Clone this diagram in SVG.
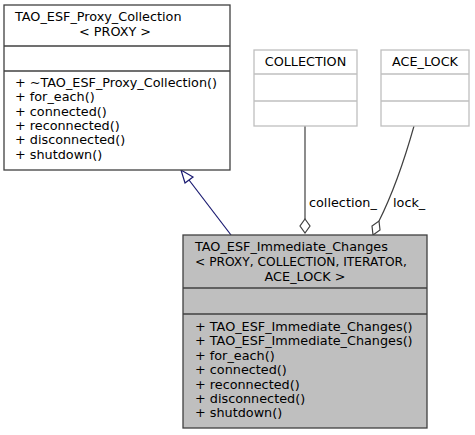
<svg xmlns="http://www.w3.org/2000/svg" width="475" height="435" viewBox="0 0 475 435">
<style>
text{font-family:"DejaVu Sans",sans-serif;font-size:12.8px;fill:#000}
.box{fill:#fff;stroke:#404040;stroke-width:1.3}
.gbox{fill:#fff;stroke:#bfbfbf;stroke-width:1.3}
.mbox{fill:#bfbfbf;stroke:#404040;stroke-width:1.3}
.dl{stroke:#404040;stroke-width:1.3}
.gl{stroke:#bfbfbf;stroke-width:1.3}
.agg{fill:none;stroke:#404040;stroke-width:1.2}
.inh{fill:none;stroke:#191970;stroke-width:1.2}
.c{text-anchor:middle}
</style>
<rect width="475" height="435" fill="#fff"/>
<g id="connectors">
<line class="inh" x1="231" y1="235" x2="189" y2="180"/>
<polygon class="inh" points="181,170 185,183 193,177" fill="#fff"/>
<line class="agg" x1="305" y1="126" x2="305" y2="219"/>
<polygon class="agg" points="305,219 310,226 305,233 300,226" fill="#fff"/>
<text x="309" y="207">collection_</text>
<path class="agg" d="M414,126 C405,158 392,195 379,221"/>
<polygon class="agg" points="373,235 380,230 379,221 372,226" fill="#fff"/>
<text x="393" y="207">lock_</text>
</g>
<g id="TAO_ESF_Proxy_Collection">
<rect class="box" x="4" y="5" width="226" height="165"/>
<line class="dl" x1="4" y1="46" x2="230" y2="46"/>
<line class="dl" x1="4" y1="71" x2="230" y2="71"/>
<text x="15" y="21">TAO_ESF_Proxy_Collection</text>
<text class="c" x="115" y="36">&lt; PROXY &gt;</text>
<text x="15" y="87">+ ~TAO_ESF_Proxy_Collection()</text>
<text x="15" y="101">+ for_each()</text>
<text x="15" y="116">+ connected()</text>
<text x="15" y="130">+ reconnected()</text>
<text x="15" y="144">+ disconnected()</text>
<text x="15" y="159">+ shutdown()</text>
</g>
<g id="COLLECTION">
<rect class="gbox" x="254" y="50" width="103" height="76"/>
<line class="gl" x1="254" y1="74" x2="357" y2="74"/>
<line class="gl" x1="254" y1="101" x2="357" y2="101"/>
<text class="c" x="305.5" y="66">COLLECTION</text>
</g>
<g id="ACE_LOCK">
<rect class="gbox" x="381" y="50" width="88" height="76"/>
<line class="gl" x1="381" y1="74" x2="469" y2="74"/>
<line class="gl" x1="381" y1="101" x2="469" y2="101"/>
<text class="c" x="425" y="66">ACE_LOCK</text>
</g>
<g id="TAO_ESF_Immediate_Changes">
<rect class="mbox" x="183" y="235" width="244" height="193"/>
<line class="dl" x1="183" y1="288" x2="427" y2="288"/>
<line class="dl" x1="183" y1="314" x2="427" y2="314"/>
<text x="195" y="251">TAO_ESF_Immediate_Changes</text>
<text x="195" y="266" textLength="212" lengthAdjust="spacingAndGlyphs">&lt; PROXY, COLLECTION, ITERATOR,</text>
<text class="c" x="305" y="281">ACE_LOCK &gt;</text>
<text x="195" y="331">+ TAO_ESF_Immediate_Changes()</text>
<text x="195" y="345">+ TAO_ESF_Immediate_Changes()</text>
<text x="195" y="360">+ for_each()</text>
<text x="195" y="374">+ connected()</text>
<text x="195" y="389">+ reconnected()</text>
<text x="195" y="403">+ disconnected()</text>
<text x="195" y="417">+ shutdown()</text>
</g>
</svg>
